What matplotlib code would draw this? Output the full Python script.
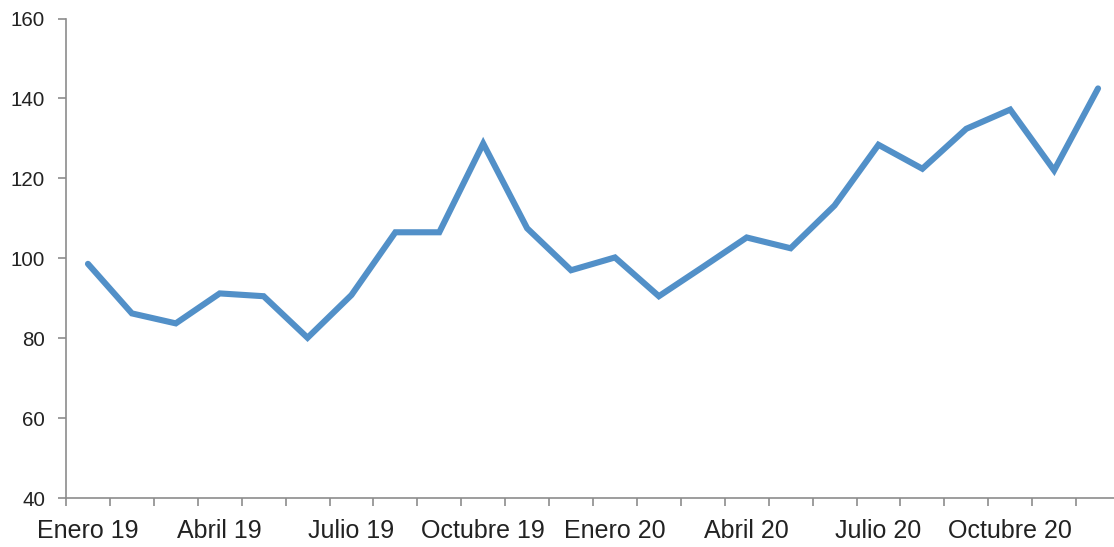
import matplotlib
matplotlib.use('Agg')
import matplotlib.pyplot as plt
from matplotlib.ticker import FixedLocator

# datos mensuales (ene-2019 .. dic-2020)
months = ['Ene 19', 'Feb 19', 'Mar 19', 'Abr 19', 'May 19', 'Jun 19',
          'Jul 19', 'Ago 19', 'Sep 19', 'Oct 19', 'Nov 19', 'Dic 19',
          'Ene 20', 'Feb 20', 'Mar 20', 'Abr 20', 'May 20', 'Jun 20',
          'Jul 20', 'Ago 20', 'Sep 20', 'Oct 20', 'Nov 20', 'Dic 20']
values = [98.6, 86.2, 83.7, 91.2, 90.5, 80.1,
          90.8, 106.5, 106.5, 128.7, 107.5, 97.0,
          100.2, 90.5, 97.8, 105.2, 102.5, 113.2,
          128.4, 122.4, 132.4, 137.2, 122.0, 142.5]
tick_labels = ['Enero 19', 'Abril 19', 'Julio 19', 'Octubre 19',
               'Enero 20', 'Abril 20', 'Julio 20', 'Octubre 20']

plt.rcParams['font.family'] = ['Liberation Sans', 'DejaVu Sans']

fig = plt.figure(figsize=(11.14, 5.47), dpi=100)
ax = fig.add_axes([66 / 1114, 49 / 547, 1054 / 1114, 479.5 / 547])

x = list(range(len(values)))
ax.plot(x, values, color='#5290C8', lw=4.4, solid_joinstyle='miter',
        solid_capstyle='round', clip_on=False)

ax.set_xlim(-0.5, len(values) - 0.5)
ax.set_ylim(40, 160)
ax.set_yticks(range(40, 161, 20))

ax.xaxis.set_major_locator(FixedLocator(range(0, len(values), 3)))
ax.set_xticklabels(tick_labels)
ax.xaxis.set_minor_locator(FixedLocator([i - 0.5 for i in range(len(values) + 1)]))

for side in ('top', 'right'):
    ax.spines[side].set_visible(False)
for side in ('left', 'bottom'):
    ax.spines[side].set_color('#8c8c8c')
    ax.spines[side].set_linewidth(1.2)

ax.tick_params(axis='y', length=6, width=1.2, color='#8c8c8c', pad=9,
               labelsize=14.8, labelcolor='#222222')
ax.tick_params(axis='x', which='major', length=0, pad=15,
               labelsize=18, labelcolor='#222222')
ax.tick_params(axis='x', which='minor', length=6, width=1.2, color='#8c8c8c')

fig.savefig('out.png', dpi=100, facecolor='white')
